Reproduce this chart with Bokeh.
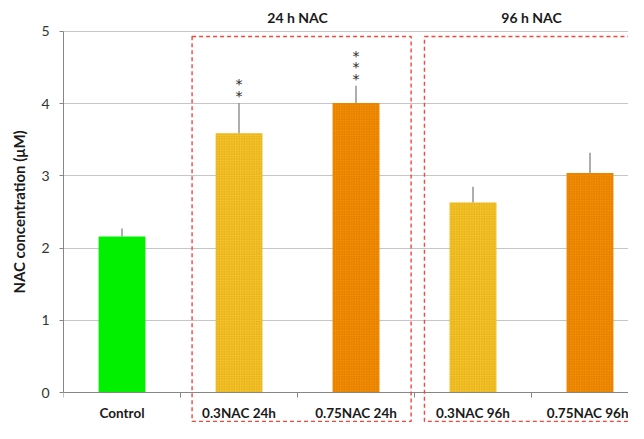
import numpy as np
from bokeh.plotting import figure
from bokeh.models import ColumnDataSource, Range1d, FixedTicker, BoxAnnotation
from bokeh.core.properties import value
from bokeh.embed import file_html
from bokeh.resources import INLINE

# ---- data ----
categories = ["Control", "0.3NAC 24h", "0.75NAC 24h", "0.3NAC 96h", "0.75NAC 96h"]
means = [2.16, 3.59, 4.01, 2.63, 3.04]
err_upper = [2.27, 4.01, 4.25, 2.85, 3.32]
significance = ["", "**", "***", "", ""]
bar_colors = ["#00f000", "#f3c22a", "#f28c00", "#f3c22a", "#f28c00"]
hatch_colors = ["#00f000", "#d49c08", "#cf6c00", "#d49c08", "#cf6c00"]
group_labels = ["24 h NAC", "96 h NAC"]
group_members = [[1, 2], [3, 4]]
y_ticks = [0, 1, 2, 3, 4, 5]

FONT = "Lato"

x_pos = np.arange(len(categories)) + 0.5

p = figure(width=628, height=423, output_backend="svg", toolbar_location=None,
           x_range=Range1d(0, 4.829), y_range=Range1d(-0.429, 5.429),
           min_border_left=63, min_border_right=0, min_border_top=0,
           min_border_bottom=0)
p.outline_line_color = None
p.background_fill_color = "white"

# grid
p.xgrid.visible = False
p.ygrid.ticker = FixedTicker(ticks=y_ticks[1:])
p.ygrid.grid_line_color = "#c6c6c6"
p.ygrid.grid_line_width = 1

# bars: plain green control, dotted texture for the treated groups
full = dict(x=list(x_pos), top=means, err=err_upper, color=bar_colors, hcolor=hatch_colors)
plain = [0]
dotted = [i for i in range(len(categories)) if i not in plain]
src = ColumnDataSource(full)
src_plain = ColumnDataSource({k: [v[i] for i in plain] for k, v in full.items()})
src_dot = ColumnDataSource({k: [v[i] for i in dotted] for k, v in full.items()})

p.vbar(x="x", top="top", bottom=0, width=0.4, source=src_plain,
       fill_color="color", line_color=None)
p.vbar(x="x", top="top", bottom=0, width=0.4, source=src_dot,
       fill_color="color", line_color=None,
       hatch_pattern="dot", hatch_color="hcolor", hatch_scale=2.5, hatch_weight=1.2)

# error bars (upper only)
p.segment(x0="x", y0="top", x1="x", y1="err", source=src,
          line_color="#939393", line_width=1.5)

# significance asterisks, stacked
sx, sy, soff = [], [], []
for i, s in enumerate(significance):
    for k in range(len(s)):
        sx.append(x_pos[i]); sy.append(err_upper[i]); soff.append(-7 - 11.5 * k)
p.text(x=sx, y=sy, y_offset=soff, text=["*"] * len(sx), text_align="center",
       text_baseline="middle", text_font=value("DejaVu Sans"), text_font_size="14px",
       text_color="#2a2a2a")

# group headers
gx = [float(np.mean([x_pos[i] for i in m])) for m in group_members]
p.text(x=gx, y=[5.19] * len(gx), text=group_labels, text_align="center",
       text_baseline="middle", text_font=value(FONT), text_font_size="14px",
       text_font_style="bold", text_color="#1a1a1a")

# dashed group boxes
box_edges = [(1.099, 2.971), (3.085, 5.6)]
for l, r in box_edges:
    p.add_layout(BoxAnnotation(left=l, right=r, top=4.93, bottom=-0.40,
                               fill_alpha=0, fill_color=None,
                               line_color="#f2473b", line_alpha=1.0, line_width=1.4,
                               line_dash="4 3", level="overlay"))

# y axis
ya = p.yaxis[0]
ya.ticker = FixedTicker(ticks=y_ticks)
ya.bounds = (0, 5)
ya.axis_line_color = "#868686"
ya.major_tick_line_color = "#868686"
ya.major_tick_out = 4
ya.major_tick_in = 0
ya.minor_tick_line_color = None
ya.major_label_standoff = 10
ya.major_label_text_font = FONT
ya.major_label_text_font_size = "14px"
ya.major_label_text_color = "#333333"
ya.axis_label = "NAC concentration (\u03bcM)"
ya.axis_label_text_font = FONT
ya.axis_label_text_font_size = "15px"
ya.axis_label_text_font_style = "bold"
ya.axis_label_text_color = "#1a1a1a"
ya.axis_label_standoff = 10

# x axis at y = 0: labels at category centres, ticks at category boundaries
xa = p.xaxis[0]
xa.fixed_location = 0
xa.ticker = FixedTicker(ticks=list(x_pos), minor_ticks=list(np.arange(len(categories) + 1)))
xa.major_label_overrides = {float(x): c for x, c in zip(x_pos, categories)}
xa.axis_line_color = "#868686"
xa.major_tick_line_color = None
xa.major_tick_out = 0
xa.major_tick_in = 0
xa.minor_tick_line_color = "#868686"
xa.minor_tick_out = 5
xa.minor_tick_in = 0
xa.major_label_standoff = 7
xa.major_label_text_font = FONT
xa.major_label_text_font_size = "13.5px"
xa.major_label_text_font_style = "bold"
xa.major_label_text_color = "#1a1a1a"

open("out.html", "w").write(file_html(p, INLINE))
